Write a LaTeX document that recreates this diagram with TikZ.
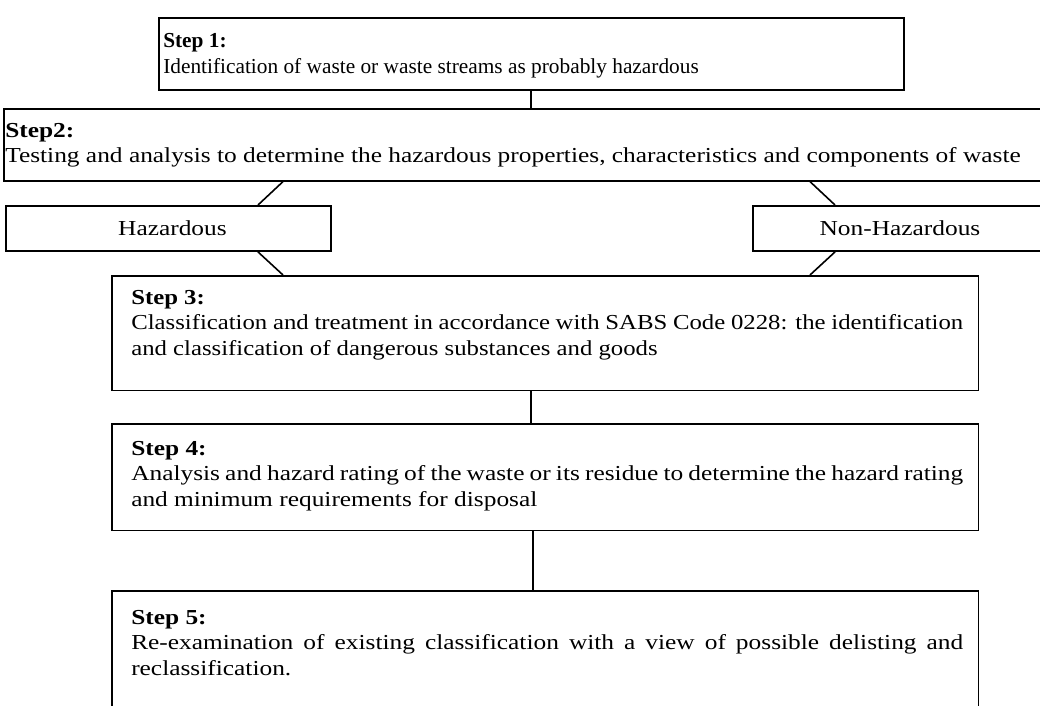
\documentclass[tikz,border=0pt]{standalone}
\usepackage{fontspec}
\setmainfont{Liberation Serif}
\newfontfamily\widefam[FakeStretch=1.19]{Liberation Serif}
\newfontfamily\widefamb[FakeStretch=1.16]{Liberation Serif}
\usetikzlibrary{calc}
\begin{document}
\begin{tikzpicture}[x=0.75pt,y=-0.75pt,
  box/.style={draw,line width=1.2pt,inner sep=0pt,anchor=north west},
  txt/.style={inner sep=0pt,anchor=north west,align=justify,font=\widefam\fontsize{16}{19}\selectfont},
  lbl/.style={inner sep=0pt,font=\widefam\fontsize{16}{19}\selectfont},
  link/.style={line width=1.2pt}]
\useasboundingbox (0,0) rectangle (1040,706);
\begin{scope}
\clip (0,0) rectangle (1040,706);
% boxes
\node[box,minimum width=559pt,minimum height=54pt] (s1) at (158,17) {};
\node[box,minimum width=795pt,minimum height=54pt] (s2) at (3,108) {};
\node[box,minimum width=244pt,minimum height=34pt] (haz) at (5,205) {};
\node[box,minimum width=240pt,minimum height=34pt] (non) at (752,205) {};
\node[box,minimum width=650pt,minimum height=86pt] (s3) at (111,275) {};
\node[box,minimum width=650pt,minimum height=80pt] (s4) at (111,423) {};
\node[box,minimum width=650pt,minimum height=120pt] (s5) at (111,590) {};
% texts
\node[txt,font=\fontsize{16}{19.5}\selectfont] (t1) at (163,33) {\textbf{Step 1:}\\Identification of waste or waste streams as probably hazardous};
\node[txt] (t2) at (5,123) {\textbf{Step2:}\\Testing and analysis to determine the hazardous properties, characteristics and components of waste};
\node[lbl] (l1) at ($(haz.center)+(4,0)$) {Hazardous};
\node[lbl] (l2) at ($(non.west)+(148,0)$) {Non-Hazardous};
\node[txt,text width=624pt,font=\widefamb\fontsize{16}{19}\selectfont] (t3) at (131,290) {\hyphenpenalty=10000 \textbf{Step 3:}\\Classification and treatment in accordance with SABS Code 0228: the identification\linebreak and classification of dangerous substances and goods};
\node[txt,text width=624pt] (t4) at (131,441) {\textbf{Step 4:}\\Analysis and hazard rating of the waste or its residue to determine the hazard rating\linebreak and minimum requirements for disposal};
\node[txt,text width=624pt] (t5) at (131,610) {\textbf{Step 5:}\\Re-examination of existing classification with a view of possible delisting and\linebreak reclassification.};
% connectors
\draw[link] (s1.south -| 531,0) -- (s2.north -| 531,0);
\draw[link] ($(s2.south west)+(280,0)$) -- ($(haz.north west)+(253,0)$);
\draw[link] ($(s2.south west)+(807,0)$) -- ($(non.north west)+(83,0)$);
\draw[link] ($(haz.south west)+(253,0)$) -- ($(s3.north west)+(172,0)$);
\draw[link] ($(non.south west)+(83,0)$) -- ($(s3.north west)+(699,0)$);
\draw[link] (s3.south -| 531,0) -- (s4.north -| 531,0);
\draw[link] (s4.south -| 533,0) -- (s5.north -| 533,0);
\end{scope}
\end{tikzpicture}
\end{document}
